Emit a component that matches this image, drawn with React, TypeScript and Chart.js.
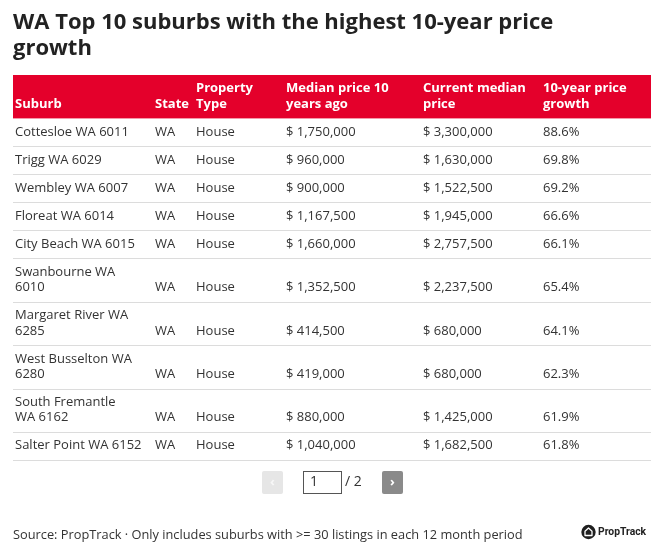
import React, { useEffect, useRef } from "react";
import { Chart, registerables } from "chart.js";

Chart.register(...registerables);

const TITLE_LINES = ["WA Top 10 suburbs with the highest 10-year price", "growth"];
const HEADERS = ["Suburb", "State", "Property\nType", "Median price 10\nyears ago", "Current median\nprice", "10-year price\ngrowth"];
const SUBURBS = [
  "Cottesloe WA 6011",
  "Trigg WA 6029",
  "Wembley WA 6007",
  "Floreat WA 6014",
  "City Beach WA 6015",
  "Swanbourne WA\n6010",
  "Margaret River WA\n6285",
  "West Busselton WA\n6280",
  "South Fremantle\nWA 6162",
  "Salter Point WA 6152",
];
const STATES = ["WA", "WA", "WA", "WA", "WA", "WA", "WA", "WA", "WA", "WA"];
const PROPERTY_TYPES = ["House", "House", "House", "House", "House", "House", "House", "House", "House", "House"];
const PRICE_10Y_AGO = [1750000, 960000, 900000, 1167500, 1660000, 1352500, 414500, 419000, 880000, 1040000];
const CURRENT_PRICE = [3300000, 1630000, 1522500, 1945000, 2757500, 2237500, 680000, 680000, 1425000, 1682500];
const GROWTH = [88.6, 69.8, 69.2, 66.6, 66.1, 65.4, 64.1, 62.3, 61.9, 61.8];
const PAGE = 1;
const PAGE_COUNT = 2;
const SOURCE = "Source: PropTrack \u00b7 Only includes suburbs with >= 30 listings in each 12 month period";
const BRAND = "PropTrack";

const FONT = '"Open Sans", "DejaVu Sans", sans-serif';
const RED = "#e4002b";
const TEXT = "#333333";

const fmtPrice = (v: number) => "$ " + v.toLocaleString("en-US");
const fmtPct = (v: number) => v.toFixed(1) + "%";

const COL_X = [13, 153, 194, 284, 421, 541, 651];
const TABLE_TOP = 75;
const LINE_H = 15.4;
const CELL_PAD = 12.6;
const BOTTOM_OFF = 14.3;

const roundRect = (ctx: CanvasRenderingContext2D, x: number, y: number, w: number, h: number, r: number) => {
  ctx.beginPath();
  ctx.moveTo(x + r, y);
  ctx.lineTo(x + w - r, y);
  ctx.quadraticCurveTo(x + w, y, x + w, y + r);
  ctx.lineTo(x + w, y + h - r);
  ctx.quadraticCurveTo(x + w, y + h, x + w - r, y + h);
  ctx.lineTo(x + r, y + h);
  ctx.quadraticCurveTo(x, y + h, x, y + h - r);
  ctx.lineTo(x, y + r);
  ctx.quadraticCurveTo(x, y, x + r, y);
  ctx.closePath();
};

const tablePlugin = {
  id: "tableDraw",
  afterDraw(chart: any) {
    const ctx: CanvasRenderingContext2D = chart.ctx;
    ctx.save();
    ctx.textBaseline = "middle";
    ctx.textAlign = "left";

    const drawCell = (text: string, colIdx: number, rowBottom: number) => {
      const lines = text.split("\n");
      const x = COL_X[colIdx] + 2;
      const lastY = rowBottom - BOTTOM_OFF;
      lines.forEach((ln, i) => {
        ctx.fillText(ln, x, lastY - (lines.length - 1 - i) * LINE_H);
      });
    };

    // header
    const hLines = Math.max(...HEADERS.map((h) => h.split("\n").length));
    const hH = CELL_PAD + LINE_H * hLines;
    ctx.fillStyle = RED;
    ctx.fillRect(COL_X[0], TABLE_TOP, COL_X[6] - COL_X[0], hH);
    ctx.fillStyle = "#ffffff";
    ctx.font = `bold 13px ${FONT}`;
    HEADERS.forEach((h, i) => drawCell(h, i, TABLE_TOP + hH));

    // rows
    let y = TABLE_TOP + hH;
    ctx.font = `13px ${FONT}`;
    SUBURBS.forEach((s, r) => {
      const cells = [s, STATES[r], PROPERTY_TYPES[r], fmtPrice(PRICE_10Y_AGO[r]), fmtPrice(CURRENT_PRICE[r]), fmtPct(GROWTH[r])];
      const n = Math.max(...cells.map((c) => c.split("\n").length));
      const h = CELL_PAD + LINE_H * n;
      const bottom = y + h;
      ctx.fillStyle = TEXT;
      cells.forEach((c, i) => drawCell(c, i, bottom));
      ctx.strokeStyle = "#dcdcdc";
      ctx.lineWidth = 1;
      ctx.beginPath();
      ctx.moveTo(COL_X[0], Math.round(bottom) + 0.5);
      ctx.lineTo(COL_X[6], Math.round(bottom) + 0.5);
      ctx.stroke();
      y = bottom;
    });

    // pagination
    const pTop = 471;
    const pH = 23;
    ctx.fillStyle = "#e6e6e6";
    roundRect(ctx, 262, pTop, 21, pH, 2);
    ctx.fill();
    ctx.fillStyle = "#f7f7f7";
    ctx.font = `bold 13px ${FONT}`;
    ctx.textAlign = "center";
    ctx.fillText("\u2039", 272.5, pTop + pH / 2);
    ctx.strokeStyle = "#555555";
    ctx.lineWidth = 1;
    ctx.strokeRect(303.5, pTop + 0.5, 38, pH - 1);
    ctx.fillStyle = TEXT;
    ctx.textAlign = "left";
    ctx.font = `14px ${FONT}`;
    ctx.fillText(String(PAGE), 310, pTop + pH / 2);
    ctx.fillText("/ " + PAGE_COUNT, 345, pTop + pH / 2);
    ctx.fillStyle = "#8a8a8a";
    roundRect(ctx, 382, pTop, 21, pH, 2);
    ctx.fill();
    ctx.fillStyle = "#ffffff";
    ctx.textAlign = "center";
    ctx.font = `bold 13px ${FONT}`;
    ctx.fillText("\u203a", 392.5, pTop + pH / 2);

    // footer
    ctx.textAlign = "left";
    ctx.fillStyle = TEXT;
    ctx.font = `12.8px ${FONT}`;
    ctx.fillText(SOURCE, 13, 535);

    // logo
    const cx = 588.5, cy = 532;
    ctx.fillStyle = "#1f1f1f";
    ctx.beginPath();
    ctx.arc(cx, cy, 7.2, 0, Math.PI * 2);
    ctx.fill();
    ctx.strokeStyle = "#ffffff";
    ctx.lineWidth = 1.3;
    ctx.lineJoin = "round";
    ctx.beginPath();
    ctx.moveTo(cx - 3.5, cy + 3.5);
    ctx.lineTo(cx - 3.5, cy - 0.8);
    ctx.lineTo(cx, cy - 4);
    ctx.lineTo(cx + 3.5, cy - 0.8);
    ctx.lineTo(cx + 3.5, cy + 3.5);
    ctx.closePath();
    ctx.stroke();
    ctx.fillStyle = "#222222";
    ctx.font = `bold 11.5px "Roboto", sans-serif`;
    ctx.save();
    ctx.translate(598, 532.5);
    ctx.scale(0.9, 1);
    ctx.fillText(BRAND, 0, 0);
    ctx.restore();
    ctx.restore();
  },
};

export default function App() {
  const ref = useRef<HTMLCanvasElement | null>(null);
  useEffect(() => {
    if (!ref.current) return;
    const chart = new Chart(ref.current, {
      type: "bar",
      data: { labels: [], datasets: [] },
      options: {
        animation: false,
        responsive: true,
        maintainAspectRatio: false,
        layout: { padding: { left: 13, top: 0, right: 20, bottom: 0 } },
        scales: { x: { display: false }, y: { display: false } },
        plugins: {
          legend: { display: false },
          tooltip: { enabled: false },
          title: {
            display: true,
            text: TITLE_LINES,
            align: "start",
            color: "#222222",
            font: { family: FONT, size: 22, weight: "bold", lineHeight: "26px" },
            padding: { top: 10, bottom: 0 },
          },
        },
      },
      plugins: [tablePlugin],
    });
    return () => chart.destroy();
  }, []);
  return (
    <div style={{ position: "fixed", left: 0, top: 0, width: 671, height: 554, background: "#fff" }}>
      <canvas ref={ref} />
    </div>
  );
}
